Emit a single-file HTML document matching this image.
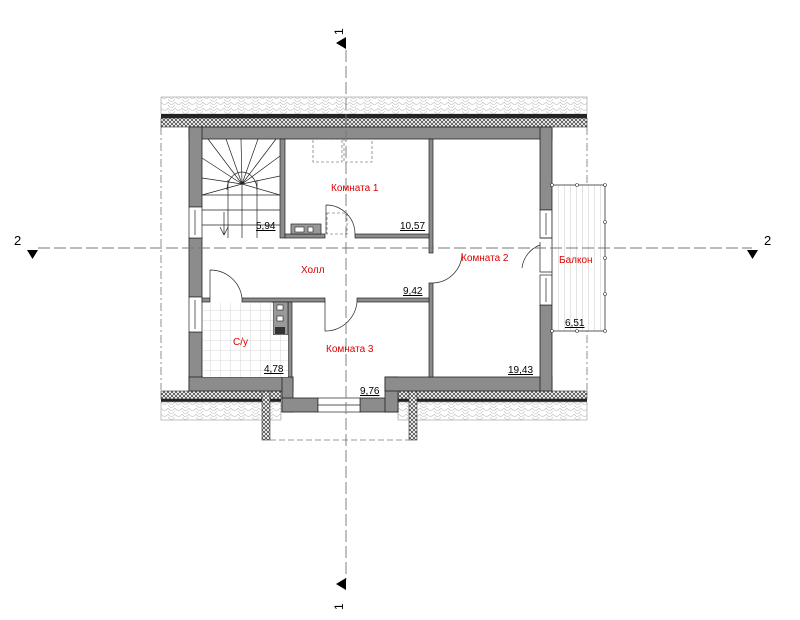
<!DOCTYPE html>
<html><head><meta charset="utf-8"><style>
html,body{margin:0;padding:0;background:#fff;}
svg{display:block;font-family:"Liberation Sans",sans-serif;}
.r{fill:#e00000;font-size:10px;}
.a{fill:#000;font-size:10px;text-decoration:underline;}
</style></head><body>
<svg width="800" height="620" viewBox="0 0 800 620" xmlns="http://www.w3.org/2000/svg">
<defs>
<pattern id="tile" width="14" height="6" patternUnits="userSpaceOnUse">
<rect width="14" height="6" fill="#fff"/>
<path d="M0 0 Q3.5 5 7 0 Q10.5 5 14 0 M-7 3 Q-3.5 8 0 3 M0 3 Q3.5 8 7 3" stroke="#bbb" fill="none" stroke-width="0.6"/>
</pattern>
<pattern id="hatch" width="4" height="4" patternUnits="userSpaceOnUse">
<rect width="4" height="4" fill="#fff"/>
<path d="M0 0L4 4M4 0L0 4" stroke="#333" stroke-width="0.7"/>
</pattern>
<pattern id="grid" width="10" height="10" patternUnits="userSpaceOnUse">
<rect width="10" height="10" fill="#fff"/>
<path d="M0 0H10M0 0V10" stroke="#ccc" stroke-width="0.8"/>
</pattern>
<pattern id="vstr" width="6" height="10" patternUnits="userSpaceOnUse">
<rect width="6" height="10" fill="#fff"/>
<path d="M0 0V10" stroke="#bbb" stroke-width="0.8"/>
</pattern>
</defs>

<path d="M161 127V390M587 127V390" stroke="#777" stroke-width="0.8" stroke-dasharray="8 3 2 3" fill="none"/>

<rect x="161" y="97" width="426" height="17" fill="url(#tile)" stroke="#999" stroke-width="0.6"/>
<rect x="161" y="114" width="426" height="4" fill="#222"/>
<rect x="161" y="118" width="426" height="9" fill="url(#hatch)" stroke="#333" stroke-width="0.6"/>

<rect x="161" y="391" width="120" height="8" fill="url(#hatch)" stroke="#333" stroke-width="0.6"/>
<rect x="161" y="399" width="120" height="3" fill="#222"/>
<rect x="161" y="402" width="120" height="18" fill="url(#tile)" stroke="#999" stroke-width="0.6"/>
<rect x="398" y="391" width="189" height="8" fill="url(#hatch)" stroke="#333" stroke-width="0.6"/>
<rect x="398" y="399" width="189" height="3" fill="#222"/>
<rect x="398" y="402" width="189" height="18" fill="url(#tile)" stroke="#999" stroke-width="0.6"/>
<rect x="262" y="391" width="8" height="49" fill="url(#hatch)" stroke="#333" stroke-width="0.6"/>
<rect x="409" y="391" width="8" height="49" fill="url(#hatch)" stroke="#333" stroke-width="0.6"/>
<path d="M270 440H409" stroke="#777" stroke-width="0.8" stroke-dasharray="6 3" fill="none"/>

<g fill="#8c8c8c" stroke="#222" stroke-width="0.8">
<rect x="189" y="127" width="363" height="12"/>
<rect x="189" y="127" width="13" height="80"/>
<rect x="189" y="238" width="13" height="59"/>
<rect x="189" y="332" width="13" height="59"/>
<rect x="189" y="377" width="104" height="14"/>
<rect x="282" y="377" width="11" height="35"/>
<rect x="282" y="398" width="36" height="14"/>
<rect x="360" y="398" width="38" height="14"/>
<rect x="385" y="377" width="13" height="35"/>
<rect x="385" y="377" width="167" height="14"/>
<rect x="540" y="127" width="12" height="83"/>
<rect x="540" y="305" width="12" height="86"/>
</g>
<g fill="#fff" stroke="#222" stroke-width="0.7">
<rect x="189" y="207" width="13" height="31"/><line x1="195" y1="210" x2="195" y2="235"/>
<rect x="189" y="297" width="13" height="35"/><line x1="195" y1="300" x2="195" y2="329"/>
<rect x="540" y="210" width="12" height="28"/><line x1="546" y1="213" x2="546" y2="235"/>
<rect x="540" y="275" width="12" height="30"/><line x1="546" y1="278" x2="546" y2="302"/>
<rect x="318" y="398" width="42" height="14"/><line x1="318" y1="405" x2="360" y2="405"/>
</g>
<path d="M540 238H552M540 242V272H552" stroke="#222" stroke-width="0.7" fill="none"/>

<g fill="#8c8c8c" stroke="#222" stroke-width="0.7">
<rect x="280" y="139" width="5" height="99"/>
<rect x="429" y="139" width="4" height="114"/>
<rect x="429" y="283" width="4" height="94"/>
<rect x="285" y="234" width="40" height="4"/>
<rect x="355" y="234" width="74" height="4"/>
<rect x="202" y="298" width="8" height="4"/>
<rect x="242" y="298" width="83" height="4"/>
<rect x="357" y="298" width="72" height="4"/>
<rect x="288" y="302" width="4" height="75"/>
</g>
<rect x="273" y="302" width="15" height="33" fill="#999" stroke="#222" stroke-width="0.7"/>
<rect x="277" y="305" width="6" height="5" fill="#fff" stroke="#222" stroke-width="0.6"/>
<rect x="277" y="316" width="6" height="5" fill="#fff" stroke="#222" stroke-width="0.6"/>
<rect x="275" y="327" width="10" height="7" fill="#333"/>
<rect x="291" y="224" width="30" height="10" fill="#999" stroke="#222" stroke-width="0.7"/>
<rect x="295" y="227" width="9" height="5" fill="#fff" stroke="#222" stroke-width="0.6"/>
<rect x="308" y="227" width="5" height="5" fill="#fff" stroke="#222" stroke-width="0.6"/>

<rect x="203" y="303" width="70" height="74" fill="url(#grid)"/>
<rect x="273" y="335" width="15" height="42" fill="url(#grid)"/>

<g stroke="#222" stroke-width="0.7" fill="none">
<path d="M202 195H280M202 210H280M202 225H280"/>
<line x1="228" y1="180" x2="228" y2="238"/><line x1="257" y1="180" x2="257" y2="238"/>
<path d="M227 190 A15 18 0 0 1 257 190"/>
<line x1="242" y1="184" x2="242" y2="238"/>
<path d="M242 184L208 139M242 184L226 139M242 184L241 139M242 184L258 139M242 184L276 139M242 184L202 158M242 184L202 178M242 184L280 156M242 184L280 176M242 184L202 195M242 184L280 195"/>
<path d="M220 227L224 235L228 227M224 212V235"/>
</g>
<g stroke="#555" stroke-width="0.6" stroke-dasharray="3 2" fill="none">
<rect x="313" y="139" width="29" height="23"/><rect x="344" y="139" width="28" height="23"/>
<rect x="327" y="213" width="20" height="21"/>
</g>

<g stroke="#222" stroke-width="0.7" fill="none">
<path d="M326 205V234M326 205A29 29 0 0 1 355 234"/>
<path d="M210 270V298M210 270A32 32 0 0 1 242 298"/>
<path d="M325 302V331A32 32 0 0 0 357 302"/>
<path d="M433 283A30 30 0 0 0 462 253"/>
<path d="M522 268A28 28 0 0 1 540 245"/>
</g>

<rect x="552" y="185" width="53" height="146" fill="url(#vstr)" stroke="#333" stroke-width="0.8"/>
<g fill="#fff" stroke="#333" stroke-width="0.6">
<circle cx="552" cy="185" r="1.5"/><circle cx="577" cy="185" r="1.5"/><circle cx="605" cy="185" r="1.5"/>
<circle cx="605" cy="222" r="1.5"/><circle cx="605" cy="258" r="1.5"/><circle cx="605" cy="294" r="1.5"/>
<circle cx="552" cy="331" r="1.5"/><circle cx="577" cy="331" r="1.5"/><circle cx="605" cy="331" r="1.5"/>
</g>

<path d="M38 248H752" stroke="#777" stroke-width="0.9" stroke-dasharray="12 4" fill="none"/>
<path d="M346 50V580" stroke="#777" stroke-width="0.9" stroke-dasharray="12 4" fill="none"/>
<polygon points="27,250 38,250 32.5,259" fill="#000"/>
<polygon points="747,250 758,250 752.5,259" fill="#000"/>
<polygon points="346,37 346,49 336,43" fill="#000"/>
<polygon points="346,578 346,590 336,584" fill="#000"/>
<text x="14" y="245" font-size="13">2</text>
<text x="764" y="245" font-size="13">2</text>
<text transform="translate(343,35) rotate(-90)" font-size="12">1</text>
<text transform="translate(343,610) rotate(-90)" font-size="12">1</text>

<text class="r" x="331" y="191">Комната 1</text>
<text class="r" x="301" y="273">Холл</text>
<text class="r" x="461" y="261">Комната 2</text>
<text class="r" x="559" y="263">Балкон</text>
<text class="r" x="233" y="345">С/у</text>
<text class="r" x="326" y="352">Комната 3</text>
<text class="a" x="256" y="229">5,94</text>
<text class="a" x="400" y="229">10,57</text>
<text class="a" x="403" y="294">9,42</text>
<text class="a" x="264" y="372">4,78</text>
<text class="a" x="360" y="394">9,76</text>
<text class="a" x="508" y="373">19,43</text>
<text class="a" x="565" y="326">6,51</text>
</svg>
</body></html>
